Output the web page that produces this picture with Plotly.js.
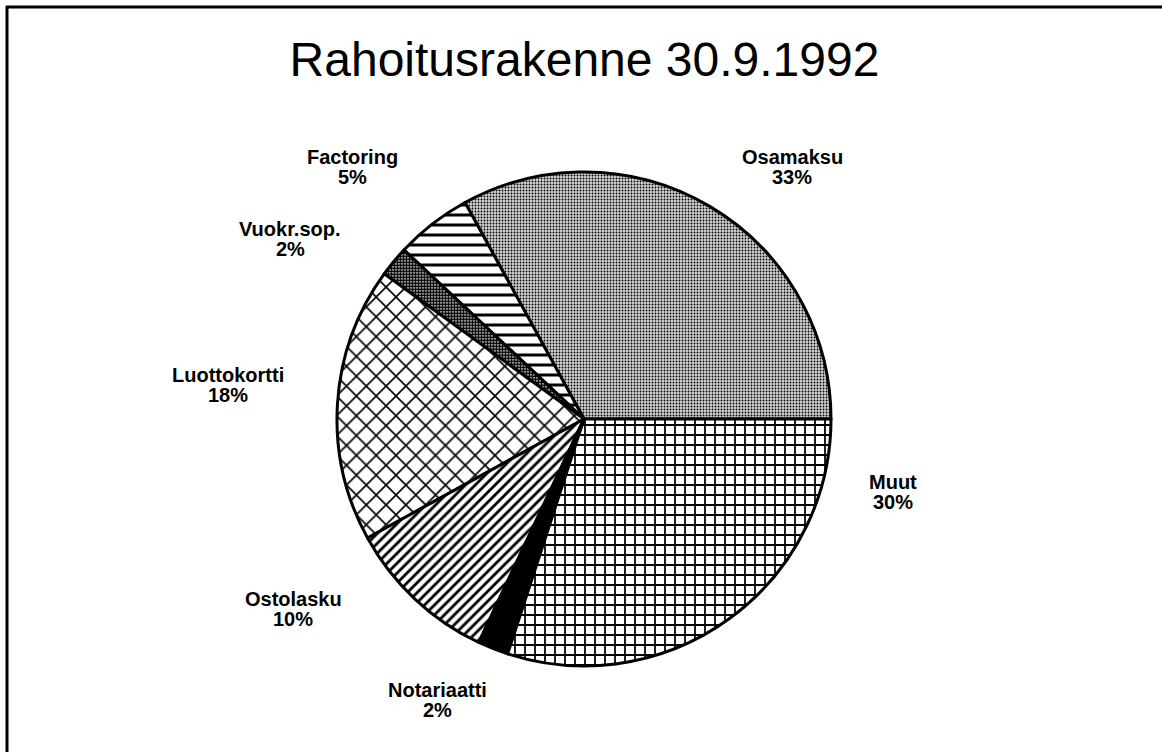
<!DOCTYPE html>
<html>
<head>
<meta charset="utf-8">
<script src="https://cdn.plot.ly/plotly-3.0.1.min.js"></script>
<style>
html,body{margin:0;padding:0;background:#fff;}
#chart{width:1162px;height:752px;}
</style>
</head>
<body>
<div id="chart"></div>
<script>
// ---- data ----
var categories = ["Osamaksu", "Factoring", "Vuokr.sop.", "Luottokortti", "Ostolasku", "Notariaatti", "Muut"];
var shares = [33, 5, 2, 18, 10, 2, 30];
var percentLabels = ["33%", "5%", "2%", "18%", "10%", "2%", "30%"];

// ---- styling ----
var patternShapes = [".", "-", ".", "x", "/", "", "+"];
var patternSizes = [3, 10, 3, 14, 7, 8, 10];
var patternSolidity = [0.3, 0.3, 0.78, 0.22, 0.4, 0.5, 0.32];
var sliceColors = ["#d2d2d2", "#ffffff", "#ffffff", "#ffffff", "#ffffff", "#000000", "#ffffff"];

// label text block centres (pixels in the 1162x752 page)
var labelPos = [[792, 167], [352, 167], [290, 239], [228, 385], [293, 609], [437, 700], [893, 492]];

var W = 1162, H = 752;
function px(x) { return x / W; }
function py(y) { return 1 - y / H; }

var total = shares.reduce(function (a, b) { return a + b; }, 0);
// first slice (Osamaksu) starts at 3 o'clock and runs counterclockwise
var rot = 90 - 360 * shares[0] / total;

var trace = {
  type: "pie",
  labels: categories,
  values: shares,
  sort: false,
  direction: "counterclockwise",
  rotation: rot,
  textinfo: "none",
  hoverinfo: "skip",
  showlegend: false,
  domain: { x: [px(337), px(831)], y: [py(666), py(172)] },
  marker: {
    colors: sliceColors,
    line: { color: "#000000", width: 3 },
    pattern: {
      shape: patternShapes,
      size: patternSizes,
      solidity: patternSolidity,
      fgcolor: "#000000",
      bgcolor: sliceColors,
      fillmode: "replace"
    }
  }
};

var labelFont = { family: "Liberation Sans, Arial, Helvetica, sans-serif", size: 20, color: "#000", weight: "bold" };
var annotations = [];
categories.forEach(function (c, i) {
  annotations.push({
    text: c, x: px(labelPos[i][0]), y: py(labelPos[i][1] - 10),
    xref: "paper", yref: "paper", xanchor: "center", yanchor: "middle",
    showarrow: false, font: labelFont
  });
  annotations.push({
    text: percentLabels[i], x: px(labelPos[i][0]), y: py(labelPos[i][1] + 10),
    xref: "paper", yref: "paper", xanchor: "center", yanchor: "middle",
    showarrow: false, font: labelFont
  });
});

var layout = {
  width: W, height: H,
  margin: { l: 0, r: 0, t: 0, b: 0 },
  paper_bgcolor: "#ffffff",
  title: {
    text: "Rahoitusrakenne 30.9.1992",
    x: 0.503, xanchor: "center",
    y: py(59), yref: "container", yanchor: "middle",
    font: { family: "Liberation Sans, Arial, Helvetica, sans-serif", size: 48, color: "#000" }
  },
  annotations: annotations,
  shapes: [
    { type: "line", xref: "paper", yref: "paper", x0: px(7), x1: px(7), y0: py(6), y1: py(752), line: { color: "#000", width: 3 } },
    { type: "line", xref: "paper", yref: "paper", x0: px(6), x1: px(1162), y0: py(7), y1: py(7), line: { color: "#000", width: 3 } }
  ]
};

Plotly.newPlot("chart", [trace], layout, { staticPlot: true, displayModeBar: false });
</script>
</body>
</html>
